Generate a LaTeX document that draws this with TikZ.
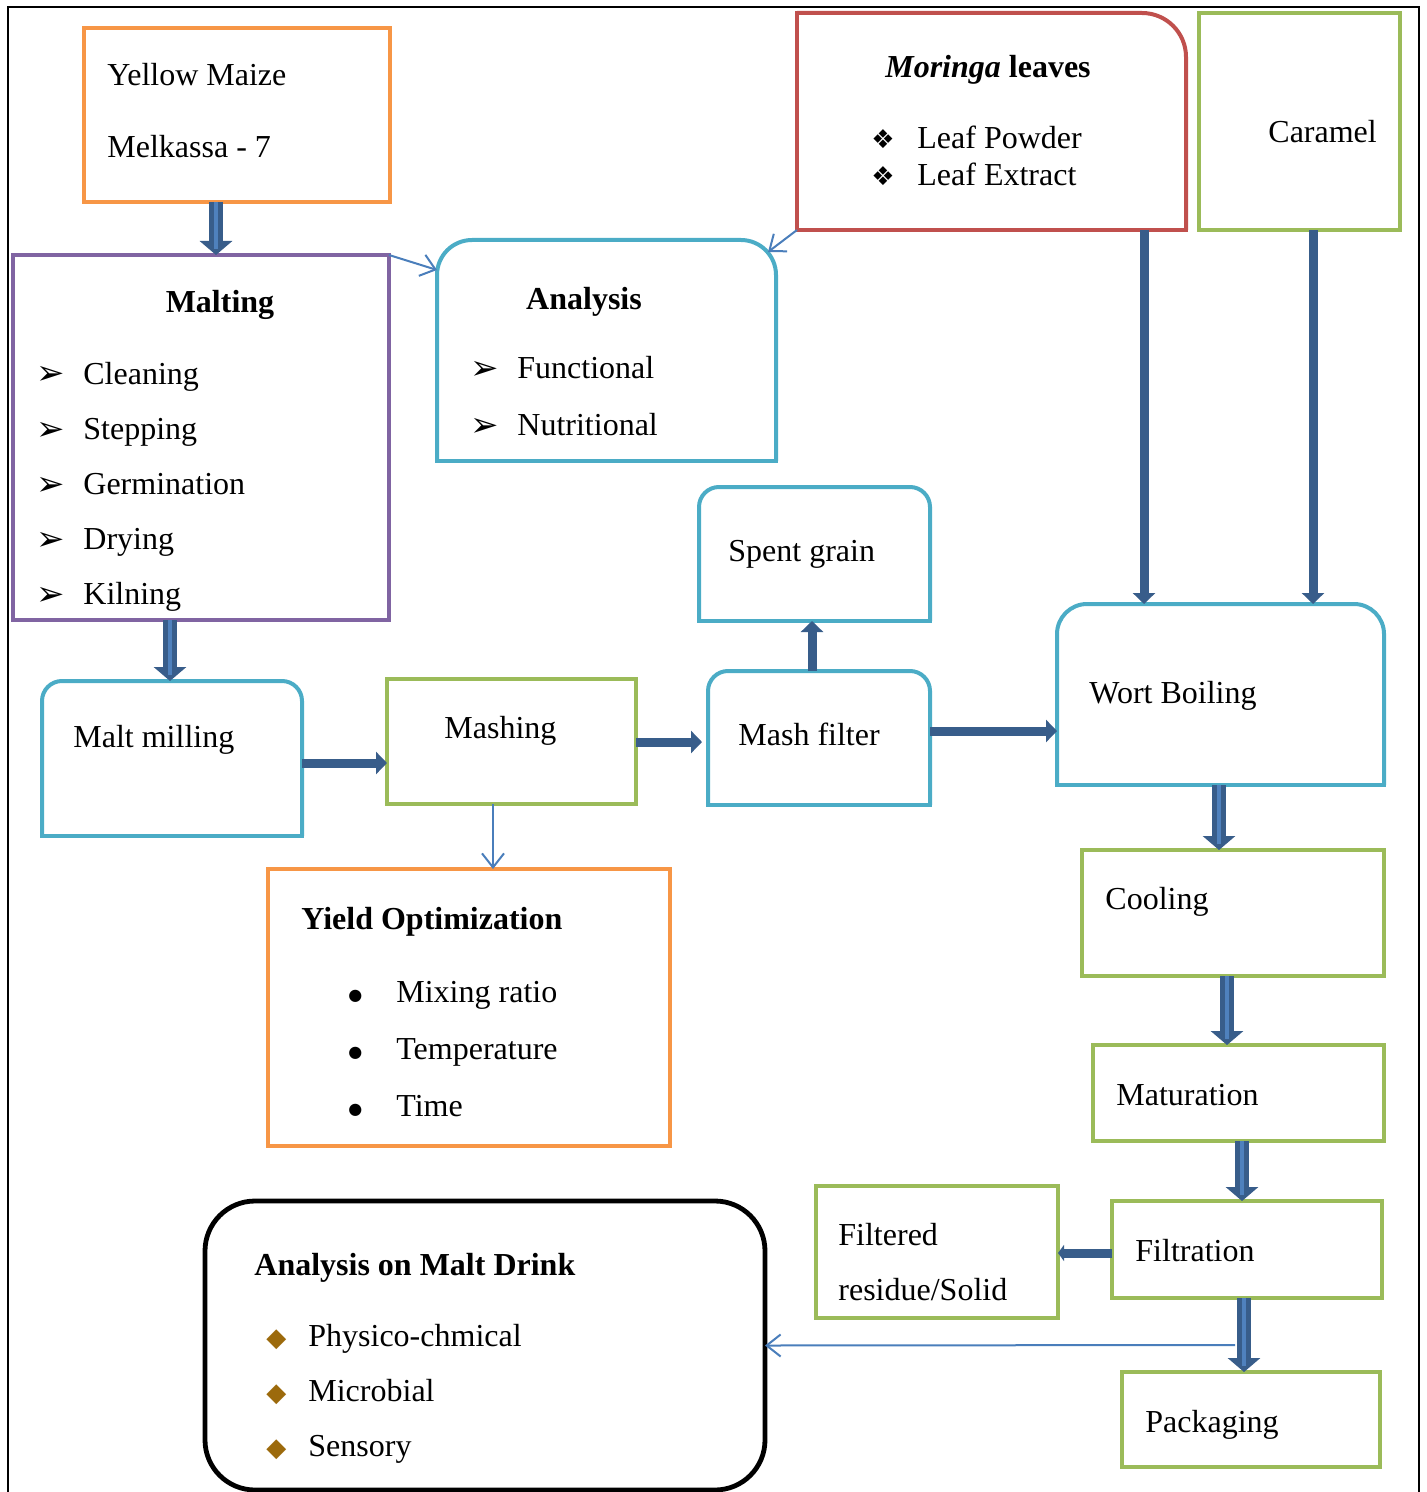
\documentclass[tikz,border=0pt]{standalone}
\usepackage{fontspec}
\setmainfont{Liberation Serif}
\newfontfamily\symfont{DejaVu Sans}
\usetikzlibrary{arrows.meta}

\definecolor{boxorange}{HTML}{F79646}
\definecolor{boxpurple}{HTML}{8064A2}
\definecolor{boxcyan}{HTML}{4BACC6}
\definecolor{boxred}{HTML}{C0504D}
\definecolor{boxgreen}{HTML}{9BBB59}
\definecolor{arrowdark}{HTML}{385D8A}
\definecolor{arrowlight}{HTML}{4F81BD}
\definecolor{arrowthin}{HTML}{4A7EBB}
\definecolor{diamondbrown}{HTML}{9C6A0C}

% bullets
\newcommand{\arrowbul}{\makebox[23.5pt][l]{\raisebox{-0.5pt}{\symfont\fontsize{17}{17}\selectfont ➢}}}
\newcommand{\leafbul}{\makebox[23pt][l]{\symfont\fontsize{13}{13}\selectfont ❖}}
\newcommand{\dotbul}{\makebox[24pt][l]{\raisebox{1pt}{\symfont\fontsize{8}{8}\selectfont ●}}}
\newcommand{\diabul}{\makebox[21pt][l]{\symfont\fontsize{13}{13}\selectfont\color{diamondbrown}◆}}

% outline with the two top corners rounded
\newcommand{\topround}[3]{%
  \draw[#3, line width=2pt, rounded corners=#2] (#1.south west) -- (#1.north west) -- (#1.north east) -- (#1.south east);
  \draw[#3, line width=2pt, line cap=rect] (#1.south east) -- (#1.south west);}

\begin{document}
\begin{tikzpicture}[x=0.5pt, y=-0.5pt,
  box/.style={draw, line width=2pt, inner sep=0pt, outer sep=0pt},
  shell/.style={inner sep=0pt, outer sep=0pt},
  txt/.style={anchor=base west, inner sep=0pt, font=\fontsize{16}{19}\selectfont},
  ttl/.style={txt, font=\fontsize{16}{19}\selectfont\bfseries},
  fatarrow/.style={draw=arrowdark, line width=4.5pt, -{Triangle[width=11pt,length=5.5pt]}},
  dblarrow/.style={draw=arrowdark, line width=7pt, -{Triangle[width=16pt,length=7pt]},
    postaction={draw=arrowlight, line width=2.2pt, -, shorten >=3pt}},
  thinarrow/.style={draw=arrowthin, line width=1pt, -{Straight Barb[length=7pt,width=11pt]}}]

\useasboundingbox (0,0) rectangle (1426,1492);
\draw[line width=1pt] (8,1500) -- (8,7) -- (1419,7) -- (1419,1500);

% boxes
\node[box, draw=boxorange, minimum width=153pt, minimum height=87pt] (maize) at (237,115) {};
\node[box, draw=boxpurple, minimum width=188pt, minimum height=182.5pt] (malting) at (201,437.5) {};
\node[shell, minimum width=169.5pt, minimum height=110.5pt] (analysis) at (606.5,350.5) {};
\node[shell, minimum width=194.5pt, minimum height=108.5pt] (moringa) at (991.5,121.5) {};
\node[box, draw=boxgreen, minimum width=100.5pt, minimum height=108.5pt] (caramel) at (1299.5,121.5) {};
\node[shell, minimum width=115.5pt, minimum height=67pt] (spent) at (814.5,554) {};
\node[shell, minimum width=130pt, minimum height=77.5pt] (milling) at (172,758.5) {};
\node[box, draw=boxgreen, minimum width=124.5pt, minimum height=62.5pt] (mashing) at (511.5,741.5) {};
\node[shell, minimum width=111pt, minimum height=67pt] (mashfilter) at (819,738) {};
\node[shell, minimum width=163.5pt, minimum height=90.5pt] (wort) at (1220.5,694.5) {};
\node[box, draw=boxgreen, minimum width=151pt, minimum height=63pt] (cooling) at (1233,913) {};
\node[box, draw=boxgreen, minimum width=145.5pt, minimum height=48pt] (maturation) at (1238.5,1093) {};
\node[box, draw=boxgreen, minimum width=135pt, minimum height=48.5pt] (filtration) at (1247,1249.5) {};
\node[box, draw=boxgreen, minimum width=129pt, minimum height=47.5pt] (packaging) at (1251,1419.5) {};
\node[box, draw=boxgreen, minimum width=121pt, minimum height=66pt] (residue) at (937,1252) {};
\node[box, draw=boxorange, minimum width=201pt, minimum height=138.5pt] (yield) at (469,1007.5) {};
\node[box, draw=black, line width=2.4pt, rounded corners=25pt, minimum width=280pt, minimum height=144.5pt] (drink) at (485,1345.5) {};

\topround{analysis}{17.5pt}{boxcyan}
\topround{spent}{10pt}{boxcyan}
\topround{milling}{10pt}{boxcyan}
\topround{mashfilter}{10pt}{boxcyan}
\topround{wort}{15pt}{boxcyan}
\draw[boxred, line width=2pt, rounded corners=22pt] (moringa.north west) -- (moringa.north east) -- (moringa.south east);
\draw[boxred, line width=2pt, line cap=rect] (moringa.south east) -- (moringa.south west) -- (moringa.north west);

% texts
\node[txt] (maize-a) at (107,86) {Yellow Maize};
\node[txt] (maize-b) at (107,158) {Melkassa - 7};
\node[ttl, anchor=base] (malting-t) at (220,313) {Malting};
\foreach \w [count=\i] in {Cleaning,Stepping,Germination,Drying,Kilning}
  \node[txt] (malting-\i) at (36,{329+55*\i}) {\arrowbul\w};
\node[ttl, anchor=base] (analysis-t) at (584,310) {Analysis};
\node[txt] (analysis-1) at (470,379) {\arrowbul Functional};
\node[txt] (analysis-2) at (470,435) {\arrowbul Nutritional};
\node[ttl, anchor=base] (moringa-t) at (988,78) {\textit{Moringa} leaves};
\node[txt] (moringa-1) at (871,149) {\leafbul Leaf Powder};
\node[txt] (moringa-2) at (871,186) {\leafbul Leaf Extract};
\node[txt] (caramel-t) at (1268,143) {Caramel};
\node[txt] (spent-t) at (728,561) {Spent grain};
\node[txt] (milling-t) at (73,747) {Malt milling};
\node[txt] (mashing-t) at (444,738) {Mashing};
\node[txt] (mashfilter-t) at (738,745) {Mash filter};
\node[txt] (wort-t) at (1089,703) {Wort Boiling};
\node[txt] (cooling-t) at (1105,909) {Cooling};
\node[txt] (maturation-t) at (1116,1105) {Maturation};
\node[txt] (filtration-t) at (1135,1261) {Filtration};
\node[txt] (packaging-t) at (1145,1432) {Packaging};
\node[txt] (residue-a) at (838,1245) {Filtered};
\node[txt] (residue-b) at (838,1300) {residue/Solid};
\node[ttl] (yield-t) at (301,929) {Yield Optimization};
\node[txt] (yield-1) at (348,1002) {\dotbul Mixing ratio};
\node[txt] (yield-2) at (348,1059) {\dotbul Temperature};
\node[txt] (yield-3) at (348,1116) {\dotbul Time};
\node[ttl] (drink-t) at (254,1275) {Analysis on Malt Drink};
\node[txt] (drink-1) at (266,1346) {\diabul Physico-chmical};
\node[txt] (drink-2) at (266,1401) {\diabul Microbial};
\node[txt] (drink-3) at (266,1456) {\diabul Sensory};

% main flow
\draw[dblarrow] (maize.south -| 216,0) -- (malting.north -| 216,0);
\draw[dblarrow] (malting.south -| 170,0) -- (milling.north -| 170,0);
\draw[fatarrow] (milling.east |- 0,763) -- (mashing.west |- 0,763);
\draw[fatarrow] (mashing.east |- 0,742) -- ([xshift=-3pt]mashfilter.west |- 0,742);
\draw[fatarrow] (mashfilter.north -| 812,0) -- (spent.south -| 812,0);
\draw[fatarrow] (mashfilter.east |- 0,731) -- (wort.west |- 0,731);
\draw[fatarrow] (moringa.south -| 1144,0) -- (wort.north -| 1144,0);
\draw[fatarrow] (caramel.south -| 1313,0) -- (wort.north -| 1313,0);
\draw[dblarrow] (wort.south -| 1219,0) -- (cooling.north -| 1219,0);
\draw[dblarrow] (cooling.south -| 1227,0) -- (maturation.north -| 1227,0);
\draw[dblarrow] (maturation.south -| 1242,0) -- (filtration.north -| 1242,0);
\draw[fatarrow, -{Triangle[width=8pt,length=3pt]}] (filtration.west |- 0,1253) -- (residue.east |- 0,1253);
\draw[dblarrow] (filtration.south -| 1244,0) -- (packaging.north -| 1244,0);

% side links
\draw[thinarrow] (malting.north east) -- (analysis.west |- 0,270);
\draw[thinarrow] (moringa.south west) -- ([xshift=-4pt,yshift=-6pt]analysis.north east);
\draw[thinarrow] (mashing.south -| 493,0) -- (yield.north -| 493,0);
\coordinate (drink-in) at (1235,1345);
\draw[thinarrow] (drink-in) -- (drink.east);
\end{tikzpicture}
\end{document}
